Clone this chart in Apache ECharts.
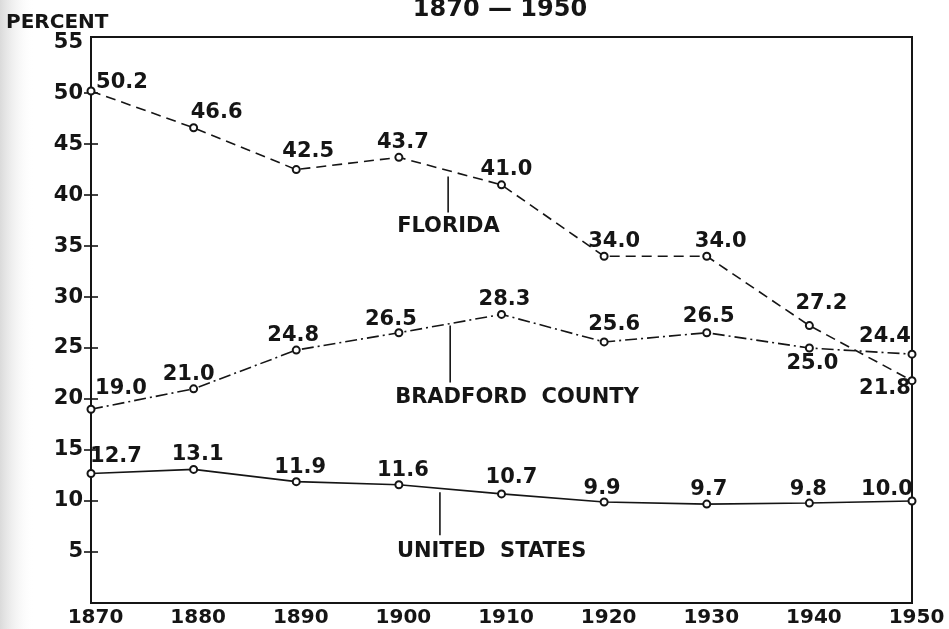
<!DOCTYPE html>
<html>
<head>
<meta charset="utf-8">
<script src="https://cdn.jsdelivr.net/npm/echarts@6/dist/echarts.min.js"></script>
<style>
  html, body { margin: 0; padding: 0; background: #ffffff; }
  #chart { width: 949px; height: 629px; }
</style>
</head>
<body>
<div id="chart"></div>
<script>
// Census years and percent values for each area
const years = [1870, 1880, 1890, 1900, 1910, 1920, 1930, 1940, 1950];
const florida = [50.2, 46.6, 42.5, 43.7, 41.0, 34.0, 34.0, 27.2, 21.8];
const bradford = [19.0, 21.0, 24.8, 26.5, 28.3, 25.6, 26.5, 25.0, 24.4];
const unitedStates = [12.7, 13.1, 11.9, 11.6, 10.7, 9.9, 9.7, 9.8, 10.0];
const yTickLabels = [5, 10, 15, 20, 25, 30, 35, 40, 45, 50, 55];
const yTickMarks = [5, 10, 15, 20, 25, 30, 35, 40, 45, 50];

// Pixel nudges for the value labels, relative to each point
const floridaLabelOffsets = [[31, -9], [23, -15], [12, -18], [4, -15], [5, -15], [10, -15], [14, -15], [12, -22], [-27, 8]];
const bradfordLabelOffsets = [[30, -21], [-5, -14], [-3, -15], [-8, -13], [3, -15], [10, -17], [2, -16], [3, 16], [-27, -18]];
const usLabelOffsets = [[25, -17], [4, -15], [4, -14], [4, -14], [10, -16], [-2, -13], [2, -15], [-1, -14], [-25, -11]];

const INK = '#151515';
const FONT = '"DejaVu Sans", "Liberation Sans", sans-serif';

function buildData(values, offsets) {
  return values.map((v, i) => ({
    value: [years[i], v],
    label: { offset: offsets[i] }
  }));
}

function lineSeries(name, values, offsets, lineType) {
  return {
    name: name,
    type: 'line',
    clip: false,
    data: buildData(values, offsets),
    symbol: 'emptyCircle',
    symbolSize: 7,
    itemStyle: { color: INK, borderWidth: 1.3 },
    lineStyle: { color: INK, width: 1.6, type: lineType },
    label: {
      show: true,
      position: 'inside',
      color: INK,
      fontFamily: FONT,
      fontWeight: 'bold',
      fontSize: 21,
      formatter: p => p.value[1].toFixed(1)
    },
    emphasis: { disabled: true },
    z: 3
  };
}

const chart = echarts.init(document.getElementById('chart'), null, { renderer: 'canvas' });

const option = {
  animation: false,
  backgroundColor: '#ffffff',
  grid: {
    left: 91, right: 37, top: 37, bottom: 26,
    show: true, borderColor: INK, borderWidth: 2, backgroundColor: 'transparent'
  },
  xAxis: {
    type: 'value',
    min: 1870, max: 1950, interval: 10,
    splitLine: { show: false },
    axisTick: { show: false },
    axisLine: { show: true, lineStyle: { color: INK, width: 2 } },
    axisLabel: {
      color: INK, fontFamily: FONT, fontWeight: 'bold', fontSize: 20,
      margin: 5, padding: [0, 0, 0, 9],
      formatter: v => String(v)
    }
  },
  yAxis: [
    {
      type: 'value',
      min: 0, max: 55.5,
      splitLine: { show: false },
      axisLine: { show: true, lineStyle: { color: INK, width: 2 } },
      axisTick: { show: true, inside: false, length: 7, customValues: yTickMarks, lineStyle: { color: INK, width: 1.6 } },
      axisLabel: {
        customValues: yTickLabels,
        color: INK, fontFamily: FONT, fontWeight: 'bold', fontSize: 21, margin: 8,
        formatter: v => String(v)
      }
    },
    {
      type: 'value',
      min: 0, max: 55.5,
      position: 'left',
      splitLine: { show: false },
      axisLine: { show: false },
      axisTick: { show: true, inside: true, length: 7, customValues: yTickMarks, lineStyle: { color: INK, width: 1.6 } },
      axisLabel: { show: false }
    }
  ],
  series: [
    lineSeries('Florida', florida, floridaLabelOffsets, [10, 6]),
    lineSeries('Bradford County', bradford, bradfordLabelOffsets, [12, 4, 2, 4]),
    lineSeries('United States', unitedStates, usLabelOffsets, 'solid')
  ]
};

chart.setOption(option);

// Leader lines and area names, anchored on each series through the grid's scales
const annotations = [
  { text: 'FLORIDA', values: florida, year: 1904.8, gap: 6, length: 36, textDx: -51, textDy: 14 },
  { text: 'BRADFORD  COUNTY', values: bradford, year: 1905.0, gap: 2, length: 57, textDx: -55, textDy: 15 },
  { text: 'UNITED  STATES', values: unitedStates, year: 1904.0, gap: 4, length: 43, textDx: -43, textDy: 16 }
];

function valueAt(values, year) {
  const i = Math.min(Math.floor((year - years[0]) / 10), years.length - 2);
  const t = (year - years[i]) / (years[i + 1] - years[i]);
  return values[i] + (values[i + 1] - values[i]) * t;
}

const graphics = [
  {
    type: 'rect', z: -10, silent: true,
    shape: { x: 0, y: 0, width: 34, height: 629 },
    style: {
      fill: new echarts.graphic.LinearGradient(0, 0, 1, 0, [
        { offset: 0, color: 'rgba(150,150,150,0.35)' },
        { offset: 0.55, color: 'rgba(200,200,200,0.15)' },
        { offset: 1, color: 'rgba(255,255,255,0)' }
      ])
    }
  },
  {
    type: 'text', silent: true,
    style: { x: 500, y: 10, text: '1870 — 1950', textAlign: 'center', textVerticalAlign: 'middle',
      font: 'bold 24px ' + FONT, fill: INK }
  },
  {
    type: 'text', silent: true,
    style: { x: 6, y: 23, text: 'PERCENT', textAlign: 'left', textVerticalAlign: 'middle',
      font: 'bold 20px ' + FONT, fill: INK }
  }
];

annotations.forEach(a => {
  const p = chart.convertToPixel({ gridIndex: 0 }, [a.year, valueAt(a.values, a.year)]);
  const x = p[0];
  const y0 = p[1] + a.gap;
  const y1 = y0 + a.length;
  graphics.push({
    type: 'line', silent: true,
    shape: { x1: x, y1: y0, x2: x, y2: y1 },
    style: { stroke: INK, lineWidth: 1.6 }
  });
  graphics.push({
    type: 'text', silent: true,
    style: { x: x + a.textDx, y: y1 + a.textDy, text: a.text, textAlign: 'left', textVerticalAlign: 'middle',
      font: 'bold 21px ' + FONT, fill: INK }
  });
});

chart.setOption({ graphic: graphics });
</script>
</body>
</html>
